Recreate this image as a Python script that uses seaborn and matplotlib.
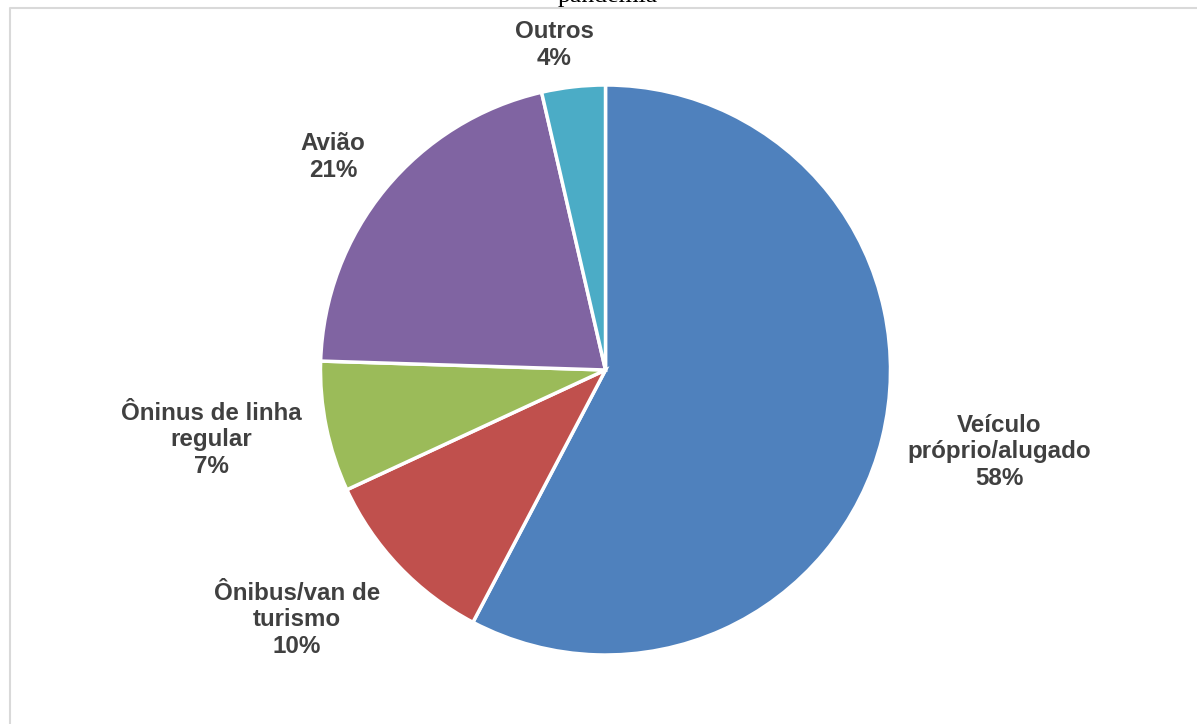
import matplotlib
matplotlib.use("Agg")
import matplotlib.pyplot as plt
from matplotlib.lines import Line2D
import seaborn as sns

# ---- data ----
categories = ["Veículo\npróprio/alugado", "Ônibus/van de\nturismo", "Ôninus de linha\nregular", "Avião", "Outros"]
values = [57.7, 10.4, 7.4, 20.9, 3.6]
colors = ["#4F81BD", "#C0504D", "#9BBB59", "#8064A2", "#4BACC6"]
# label anchor positions (pixel coords in the 1197x724 image)
label_px = [(999, 452), (297, 620), (211, 440), (333, 157), (554, 45)]

sns.set_theme(style="white")
plt.rcParams['font.family'] = ['Liberation Sans', 'DejaVu Sans']

W, H, DPI = 1197, 724, 100
fig = plt.figure(figsize=(W / DPI, H / DPI), dpi=DPI)
fig.patch.set_facecolor("white")
ax = fig.add_axes([0, 0, 1, 1])

cx, cy, R = 605.5, 370.0, 285.0

palette = sns.color_palette(colors)
ax.pie(values, colors=palette, startangle=90, counterclock=False, radius=1.0,
       wedgeprops=dict(edgecolor="white", linewidth=2.5))

ax.set_xlim(-cx / R, (W - cx) / R)
ax.set_ylim(-(H - cy) / R, cy / R)
ax.set_aspect("auto")
ax.axis("off")

for cat, v, (px, py) in zip(categories, values, label_px):
    x = (px - cx) / R
    y = (cy - py) / R
    ax.text(x, y, f"{cat}\n{round(v)}%", ha="center", va="center",
            fontsize=17.4, fontweight="bold", color="#404040", linespacing=1.2)

# cut-off title at the top
fig.text(608 / W, 1 - 2 / H, "pandemia", ha="center", va="baseline",
         fontsize=18.5, family=["Liberation Serif", "DejaVu Serif"], color="black")

# light frame lines
fig.add_artist(Line2D([9.5 / W, 9.5 / W, 1.0], [0, 1 - 8 / H, 1 - 8 / H],
                      transform=fig.transFigure, color="#D9D9D9", linewidth=1.5))

fig.savefig("out.png", dpi=DPI, facecolor="white")
